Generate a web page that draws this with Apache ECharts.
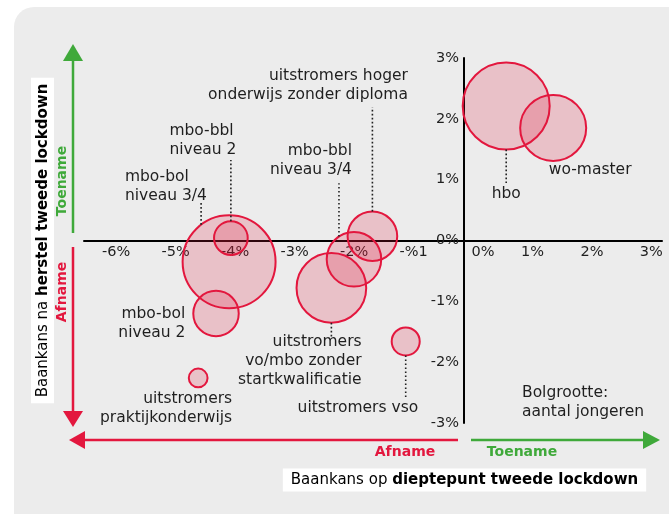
<!DOCTYPE html>
<html>
<head>
<meta charset="utf-8">
<script src="https://cdn.jsdelivr.net/npm/echarts@6/dist/echarts.min.js"></script>
<style>
html,body{margin:0;padding:0;background:#fff;}
#chart{width:669px;height:514px;}
</style>
</head>
<body>
<div id="chart"></div>
<script>
// ---- data ----
const categories = ['hbo', 'wo-master', 'uitstromers hoger onderwijs zonder diploma', 'mbo-bbl niveau 3/4', 'mbo-bbl niveau 2', 'mbo-bol niveau 3/4', 'mbo-bol niveau 2', 'uitstromers praktijkonderwijs', 'uitstromers vso', 'uitstromers vo/mbo zonder startkwalificatie'];
const labelTexts = ['hbo', 'wo-master', 'uitstromers hoger\nonderwijs zonder diploma', 'mbo-bbl\nniveau 3/4', 'mbo-bbl\nniveau 2', 'mbo-bol\nniveau 3/4', 'mbo-bol\nniveau 2', 'uitstromers\npraktijkonderwijs', 'uitstromers vso', 'uitstromers\nvo/mbo zonder\nstartkwalificatie'];
// x: baankans op dieptepunt tweede lockdown (%)
const dieptepunt = [0.71, 1.50, -1.54, -1.85, -3.92, -3.95, -4.17, -4.47, -0.98, -2.23];
// y: baankans na herstel tweede lockdown (%)
const herstel = [2.21, 1.85, 0.07, -0.31, 0.04, -0.35, -1.20, -2.26, -1.66, -0.78];
// bubble size: aantal jongeren (estimated, relative)
const jongeren = [40.4, 23.6, 13.6, 16.3, 6.5, 46.0, 11.5, 2.2, 4.6, 26.2];
const xTickValues = [-6, -5, -4, -3, -2, -1, 0, 1, 2, 3];
const xTickLabels = ['-6%', '-5%', '-4%', '-3%', '-2%', '-%1', '0%', '1%', '2%', '3%'];
const yTickValues = [-3, -2, -1, 0, 1, 2, 3];
const yTickLabels = ['-3%', '-2%', '-1%', '0%', '1%', '2%', '3%'];

// ---- annotation layout (pixel offsets from bubble centre) ----
const annot = [
  {line: {dx: 0, to: 77}, text: {dx: 0, dy: 88, align: 'center'}},
  {text: {dx: 37, dy: 42, align: 'center'}},
  {line: {dx: 0, to: -129}, text: {dx: 35.5, dy: -150.7, align: 'right'}},
  {line: {dx: -15, to: -76}, text: {dx: -2, dy: -99.2, align: 'right'}},
  {line: {dx: 0, to: -78}, text: {dx: -61.5, dy: -97.5, align: 'left'}},
  {line: {dx: -28, to: -59}, text: {dx: -104.2, dy: -75.6, align: 'left'}},
  {text: {dx: -30.7, dy: 9.5, align: 'right'}},
  {text: {dx: 34, dy: 30.8, align: 'right'}},
  {line: {dx: 0, to: 56.3}, text: {dx: 12.5, dy: 66, align: 'right'}},
  {line: {dx: 0, to: 48.8}, text: {dx: 30.2, dy: 73.5, align: 'right'}}
];

const FONT = '"DejaVu Sans", sans-serif';
const TXT = '#1f1f1f';
const RED = '#e3173e';
const GREEN = '#3fa93a';
const LBL = 15.5;
const sizeOf = v => 14 * Math.sqrt(v) - 2;

const points = categories.map((c, i) => ({name: c, value: [dieptepunt[i], herstel[i], jongeren[i], i]}));

const chart = echarts.init(document.getElementById('chart'), null, {renderer: 'canvas'});

function annotRender(params, api) {
  const i = api.value(3);
  const c = api.coord([api.value(0), api.value(1)]);
  const r = sizeOf(api.value(2)) / 2;
  const a = annot[i];
  const children = [];
  if (a.line) {
    const dx = a.line.dx;
    const sgn = a.line.to > 0 ? 1 : -1;
    const edge = sgn * Math.sqrt(Math.max(r * r - dx * dx, 0));
    children.push({
      type: 'line',
      shape: {x1: c[0] + dx, y1: c[1] + edge, x2: c[0] + dx, y2: c[1] + a.line.to},
      style: {stroke: '#222', lineWidth: 1.6, lineDash: [1.6, 2.4]}
    });
  }
  children.push({
    type: 'text',
    x: c[0] + a.text.dx, y: c[1] + a.text.dy,
    style: {
      text: labelTexts[i], fill: TXT, font: LBL + 'px ' + FONT, lineHeight: 19,
      align: a.text.align, verticalAlign: 'middle'
    }
  });
  return {type: 'group', children: children};
}

const GRID = {left: 84, right: 7, top: 58, bottom: 91};
// axis offsets bring the axes onto the zero lines of the other axis
const X0 = 84 + 6.39 / 9.72 * 578;      // pixel x of value 0
const Y0 = 58 + 3 / 6 * 365;            // pixel y of value 0

const option = {
  backgroundColor: '#ffffff',
  animation: false,
  grid: {left: GRID.left, right: GRID.right, top: GRID.top, bottom: GRID.bottom, containLabel: false, outerBoundsMode: 'none'},
  xAxis: {
    type: 'value', min: -6.39, max: 3.33,
    offset: -(514 - GRID.bottom - Y0),
    splitLine: {show: false},
    axisTick: {show: false},
    axisLine: {onZero: false, lineStyle: {color: '#000', width: 2}},
    axisLabel: {
      customValues: xTickValues,
      margin: 4,
      color: TXT, fontFamily: FONT, fontSize: 14.5,
      formatter: v => {
        const i = xTickValues.indexOf(v);
        const t = i >= 0 ? xTickLabels[i] : '';
        return v === 0 ? '{z|' + t + '}' : '{a|' + t + '}';
      },
      rich: {
        a: {padding: [0, 0, 0, 18], color: TXT, fontFamily: FONT, fontSize: 14.5},
        z: {padding: [0, 0, 0, 38], color: TXT, fontFamily: FONT, fontSize: 14.5}
      }
    }
  },
  yAxis: {
    type: 'value', min: -3, max: 3,
    offset: -(X0 - GRID.left),
    splitLine: {show: false},
    axisTick: {show: false},
    axisLine: {onZero: false, lineStyle: {color: '#000', width: 2}},
    axisLabel: {
      customValues: yTickValues,
      margin: 5,
      color: TXT, fontFamily: FONT, fontSize: 14.5,
      formatter: v => {
        const i = yTickValues.indexOf(v);
        return i >= 0 ? yTickLabels[i] : '';
      }
    }
  },
  series: [
    {
      type: 'scatter',
      data: points,
      symbolSize: v => sizeOf(v[2]),
      itemStyle: {color: 'rgba(227,23,62,0.2)', borderColor: RED, borderWidth: 2, opacity: 1},
      emphasis: {disabled: true},
      z: 3
    },
    {
      type: 'custom',
      data: points,
      clip: false,
      renderItem: annotRender,
      z: 4,
      silent: true
    }
  ],
  graphic: [
    {type: 'rect', z: -100, shape: {x: 14, y: 7, width: 700, height: 540, r: 20}, style: {fill: '#ececec'}},
    // vertical arrows
    {type: 'line', z: 100, shape: {x1: 73, y1: 233, x2: 73, y2: 58}, style: {stroke: GREEN, lineWidth: 2.5}},
    {type: 'polygon', z: 100, shape: {points: [[73, 44], [63, 61], [83, 61]]}, style: {fill: GREEN}},
    {type: 'line', z: 100, shape: {x1: 73, y1: 247, x2: 73, y2: 414}, style: {stroke: RED, lineWidth: 2.5}},
    {type: 'polygon', z: 100, shape: {points: [[73, 427], [63, 411], [83, 411]]}, style: {fill: RED}},
    // horizontal arrows
    {type: 'line', z: 100, shape: {x1: 458, y1: 440, x2: 82, y2: 440}, style: {stroke: RED, lineWidth: 2.5}},
    {type: 'polygon', z: 100, shape: {points: [[69, 440], [85, 431], [85, 449]]}, style: {fill: RED}},
    {type: 'line', z: 100, shape: {x1: 471, y1: 440, x2: 646, y2: 440}, style: {stroke: GREEN, lineWidth: 2.5}},
    {type: 'polygon', z: 100, shape: {points: [[660, 440], [643, 431], [643, 449]]}, style: {fill: GREEN}},
    // direction words
    {type: 'text', z: 100, x: 62, y: 181, rotation: Math.PI / 2, style: {text: 'Toename', fill: GREEN, font: 'bold 14px ' + FONT, align: 'center', verticalAlign: 'middle'}},
    {type: 'text', z: 100, x: 62, y: 292, rotation: Math.PI / 2, style: {text: 'Afname', fill: RED, font: 'bold 14px ' + FONT, align: 'center', verticalAlign: 'middle'}},
    {type: 'text', z: 100, x: 405, y: 452, style: {text: 'Afname', fill: RED, font: 'bold 14px ' + FONT, align: 'center', verticalAlign: 'middle'}},
    {type: 'text', z: 100, x: 522, y: 452, style: {text: 'Toename', fill: GREEN, font: 'bold 14px ' + FONT, align: 'center', verticalAlign: 'middle'}},
    // axis titles
    {type: 'text', z: 100, x: 42.5, y: 240.5, rotation: Math.PI / 2, style: {
      text: '{r|Baankans na }{b|herstel tweede lockdown}', align: 'center', verticalAlign: 'middle',
      backgroundColor: '#ffffff', padding: [5, 6, 3, 6],
      rich: {r: {fontFamily: FONT, fontSize: 15, color: TXT}, b: {fontFamily: FONT, fontSize: 15, fontWeight: 'bold', color: TXT}}
    }},
    {type: 'text', z: 100, x: 464.5, y: 480, style: {
      text: '{r|Baankans op }{b|dieptepunt tweede lockdown}', align: 'center', verticalAlign: 'middle',
      backgroundColor: '#ffffff', padding: [4, 8, 4, 8],
      rich: {r: {fontFamily: FONT, fontSize: 15, color: TXT}, b: {fontFamily: FONT, fontSize: 15, fontWeight: 'bold', color: TXT}}
    }},
    // size legend note
    {type: 'text', z: 100, x: 522, y: 402.5, style: {text: 'Bolgrootte:\naantal jongeren', fill: TXT, font: LBL + 'px ' + FONT, lineHeight: 19, align: 'left', verticalAlign: 'middle'}}
  ]
};
chart.setOption(option);
</script>
</body>
</html>
